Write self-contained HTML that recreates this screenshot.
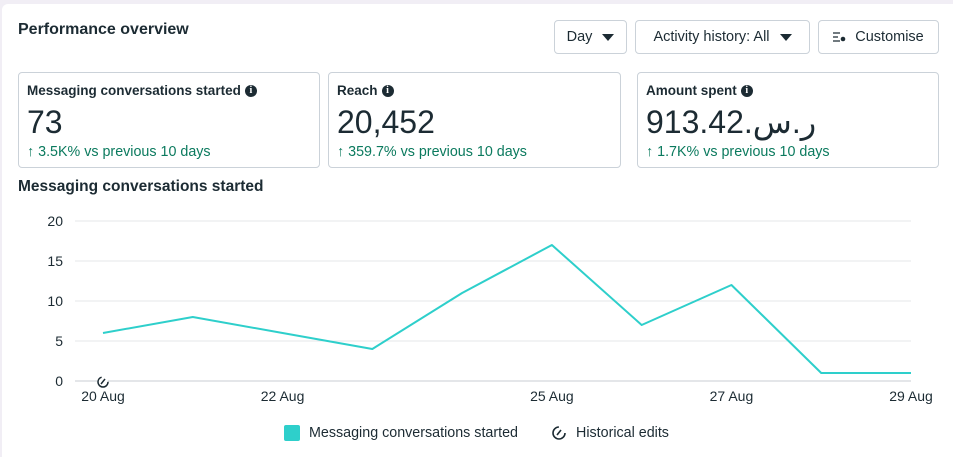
<!DOCTYPE html>
<html><head><meta charset="utf-8"><style>
body{margin:0;width:953px;height:457px;background:#f1eef5;font-family:"Liberation Sans","DejaVu Sans",sans-serif;color:#1c2b33;overflow:hidden;position:relative}
.panel{position:absolute;left:2px;top:4px;width:951px;height:453px;background:#fff;border-radius:6px 0 0 0}
.abs{position:absolute}
.btn{position:absolute;top:20px;height:34px;border:1px solid #cbd2d9;border-radius:4px;box-sizing:border-box;font-size:14.5px;display:flex;align-items:center;justify-content:center;gap:10px;background:#fff}
.tri{width:0;height:0;border-left:6px solid transparent;border-right:6px solid transparent;border-top:7px solid #1c2b33}
.card{position:absolute;top:72px;height:96px;border:1px solid #cbd2d9;border-radius:4px;box-sizing:border-box}
.ct{position:absolute;left:8px;top:10px;font-size:13.5px;font-weight:bold;display:flex;align-items:center;gap:4px}
.i{display:inline-block;width:12px;height:12px;border-radius:50%;background:#1c2b33;color:#fff;font-size:10px;line-height:12px;text-align:center;font-family:"Liberation Serif",serif;font-weight:bold}
.cv{position:absolute;left:8px;top:30px;font-size:32px;line-height:38px}
.cd{position:absolute;left:8px;top:71px;font-size:14.3px;color:#0b7a5e}
</style></head><body>
<div class="panel"></div>
<div class="abs" style="left:18px;top:21px;font-size:16px;font-weight:bold">Performance overview</div>
<div class="btn" style="left:554px;width:73px">Day <span class="tri"></span></div>
<div class="btn" style="left:635px;width:175px">Activity history: All <span class="tri"></span></div>
<div class="btn" style="left:818px;width:121px;gap:8px"><svg width="14" height="12" viewBox="0 0 14 12"><path d="M0 2h7M0 6h5M0 10h7" stroke="#1c2b33" stroke-width="1.3"/><circle cx="10" cy="8" r="2.3" fill="#1c2b33"/></svg>Customise</div>

<div class="card" style="left:18px;width:302px">
<div class="ct">Messaging conversations started <span class="i">i</span></div><div class="cv">73</div><div class="cd">↑ 3.5K% vs previous 10 days</div></div>
<div class="card" style="left:328px;width:293px">
<div class="ct">Reach <span class="i">i</span></div><div class="cv">20,452</div><div class="cd">↑ 359.7% vs previous 10 days</div></div>
<div class="card" style="left:637px;width:302px">
<div class="ct">Amount spent <span class="i">i</span></div><div class="cv">913.42.ر.س</div><div class="cd">↑ 1.7K% vs previous 10 days</div></div>

<div class="abs" style="left:18px;top:178px;font-size:15.5px;font-weight:bold">Messaging conversations started</div>
<svg id="chart" class="abs" style="left:0;top:0" width="953" height="457"></svg>
<div class="abs" style="left:284px;top:425px;width:16px;height:16px;background:#2ecfcb;border-radius:2px"></div>
<div class="abs" style="left:309px;top:425px;font-size:14.3px">Messaging conversations started</div>
<svg class="abs" style="left:551px;top:425px" width="16" height="16"><circle cx="8" cy="8" r="6" fill="none" stroke="#1c2b33" stroke-width="1.6" stroke-dasharray="28 10"/><path d="M6 10L10 5" stroke="#1c2b33" stroke-width="1.6"/></svg>
<div class="abs" style="left:576px;top:425px;font-size:14.3px">Historical edits</div>
<script>
const days=[20,21,22,23,24,25,26,27,28,29];
const values=[6,8,6,4,11,17,7,12,1,1];
const yTicks=[0,5,10,15,20];
const xTickDays=[20,22,25,27,29];
const xTickLabels=["20 Aug","22 Aug","25 Aug","27 Aug","29 Aug"];
const NS="http://www.w3.org/2000/svg";
const svg=document.getElementById('chart');
const x=d=>103+(d-20)*(911-103)/9;
const y=v=>381-v*8;
function mk(t,a){const e=document.createElementNS(NS,t);for(const k in a)e.setAttribute(k,a[k]);svg.appendChild(e);return e;}
yTicks.forEach(v=>{
 const l=mk('line',{x1:75,x2:911,y1:y(v),y2:y(v),stroke:v===0?'#c9ced3':'#e4e7ea','stroke-width':1});
 
 
 const t=mk('text',{x:63,y:y(v)+5,'text-anchor':'end','font-size':14,fill:'#1c2b33'});
 t.textContent=v;
 
 
});
xTickDays.forEach((d,i)=>{
 const t=mk('text',{x:x(d),y:401,'text-anchor':'middle','font-size':14,fill:'#1c2b33'});
 t.textContent=xTickLabels[i];
 
 
});
const p=mk('polyline',{points:days.map((d,i)=>x(d)+','+y(values[i])).join(' '),fill:'none',stroke:'#2ecfcb','stroke-width':2,'stroke-linejoin':'round'});


const g=mk('g',{transform:`translate(${x(20)},${y(0)+1})`});


const c=document.createElementNS(NS,'circle');c.setAttribute('r',5);c.setAttribute('fill','#fff');c.setAttribute('stroke','#1c2b33');c.setAttribute('stroke-width',1.5);c.setAttribute('stroke-dasharray','22 9');g.appendChild(c);
const pl=document.createElementNS(NS,'path');pl.setAttribute('d','M-2 2L2 -3');pl.setAttribute('stroke','#1c2b33');pl.setAttribute('stroke-width',1.5);g.appendChild(pl);
</script>
</body></html>
